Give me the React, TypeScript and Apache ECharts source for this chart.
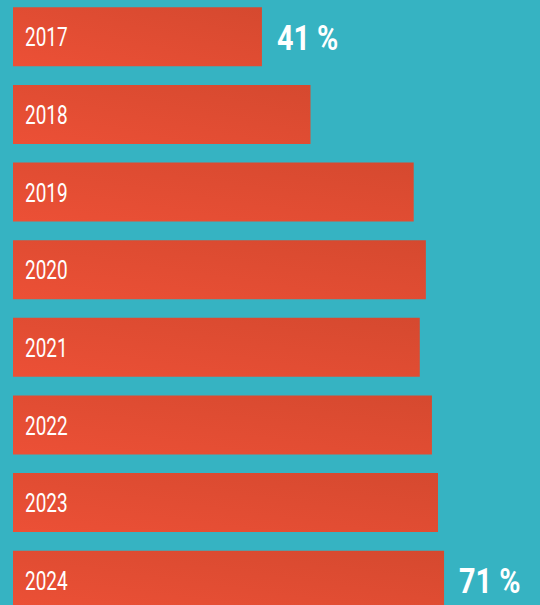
import React, { useEffect, useRef } from "react";
import * as echarts from "echarts";

const years = ["2017", "2018", "2019", "2020", "2021", "2022", "2023", "2024"];
const values = [41, 49, 66, 68, 67, 69, 70, 71];
const labelledYears = ["2017", "2024"];

const FONT = "Roboto, 'Liberation Sans', sans-serif";

export default function App() {
  const ref = useRef<HTMLDivElement>(null);
  useEffect(() => {
    if (!ref.current) return;
    const chart = echarts.init(ref.current, null, { renderer: "svg" });
    const yearData = years.map((y) => [0, y]);
    const valueData = years
      .map((y, i) => [values[i], y])
      .filter((d) => labelledYears.includes(d[1] as string));
    chart.setOption({
      animation: false,
      backgroundColor: "#36b3c2",
      grid: { left: 13, top: 0, right: 0, bottom: 0, containLabel: false },
      xAxis: { type: "value", min: 0, max: 86.8, show: false },
      yAxis: {
        type: "category",
        data: years,
        inverse: true,
        show: false,
      },
      series: [
        {
          type: "bar",
          data: values,
          barWidth: 59,
          z: 1,
          itemStyle: {
            color: new echarts.graphic.LinearGradient(0, 1, 1, 0, [
              { offset: 0, color: "#ec5036" },
              { offset: 1, color: "#d5492f" },
            ]),
          },
        },
        {
          type: "custom",
          data: yearData,
          silent: true,
          z: 10,
          renderItem: (params: any, api: any) => {
            const p = api.coord([0, api.value(1)]);
            return {
              type: "text",
              x: p[0] + 12,
              y: p[1] + 1,
              scaleX: 0.73,
              z2: 10,
              style: {
                text: years[params.dataIndex],
                fill: "#ffffff",
                fontFamily: FONT,
                fontSize: 26,
                verticalAlign: "middle",
                align: "left",
              },
            };
          },
        },
        {
          type: "custom",
          data: valueData,
          silent: true,
          z: 10,
          renderItem: (params: any, api: any) => {
            const p = api.coord([api.value(0), api.value(1)]);
            return {
              type: "text",
              x: p[0] + 15,
              y: p[1] + 1,
              scaleX: 0.8,
              style: {
                text: valueData[params.dataIndex][0] + " %",
                fill: "#ffffff",
                fontFamily: FONT,
                fontWeight: "bold",
                fontSize: 36,
                verticalAlign: "middle",
                align: "left",
              },
            };
          },
        },
      ],
    });
    return () => chart.dispose();
  }, []);
  return (
    <div
      ref={ref}
      style={{ position: "fixed", left: 0, top: -2.3, width: 540, height: 620.6 }}
    />
  );
}
